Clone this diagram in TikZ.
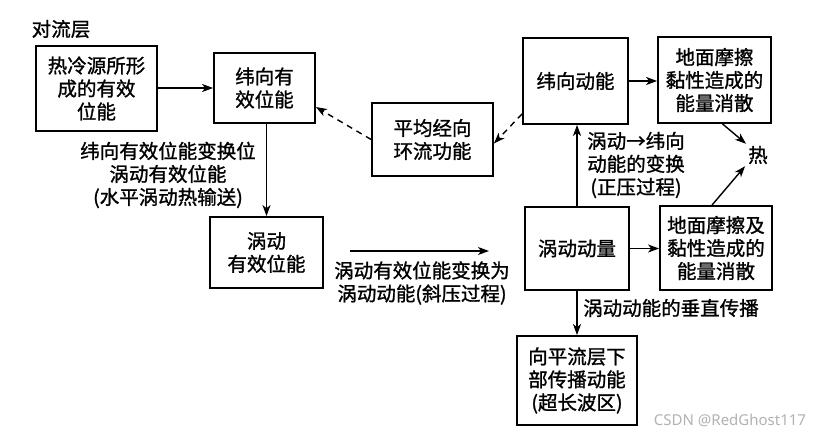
\documentclass[tikz,border=0pt]{standalone}
\usepackage{fontspec}
\setmainfont{Noto Sans CJK SC}[FakeBold=1.2]
\newfontfamily\wmfont{Noto Sans}
\usetikzlibrary{arrows.meta,calc}
\begin{document}
\begin{tikzpicture}[x=1pt,y=-1pt,
  every node/.style={font=\fontsize{19.5}{23}\selectfont, inner sep=0pt},
  box/.style={draw, line width=1.8pt, align=center},
  lbl/.style={align=center},
  arr/.style={line width=1.4pt, -{Stealth[length=11pt,width=8pt,inset=3pt]}},
  darr/.style={arr, dash pattern=on 6pt off 5pt}]
\useasboundingbox (0,0) rectangle (828,436);
\fill[white] (0,0) rectangle (828,436);

\node (trop) at (61,29) {对流层};

\node[box, minimum width=121pt, minimum height=85pt] (b1) at (96.5,88.5) {热冷源所形\\成的有效\\位能};
\node[box, minimum width=101pt, minimum height=70pt] (b2) at (264.5,88) {纬向有\\效位能};
\node[box, minimum width=113pt, minimum height=71pt] (b3) at (266.5,252.5) {涡动\\有效位能};
\node[box, minimum width=121pt, minimum height=73pt] (b4) at (432.5,139.5) {平均经向\\环流功能};
\node[box, minimum width=105pt, minimum height=86pt] (b5) at (575.5,81) {纬向动能};
\node[box, minimum width=113pt, minimum height=86pt] (b6) at (714.5,80) {地面摩擦\\黏性造成的\\能量消散};
\node[box, minimum width=104pt, minimum height=83pt] (b7) at (577,248.5) {涡动动量};
\node[box, minimum width=112pt, minimum height=84pt] (b8) at (716,248) {地面摩擦及\\黏性造成的\\能量消散};
\node[box, minimum width=120pt, minimum height=89pt] (b9) at (577,380.5) {向平流层下\\部传播动能\\(超长波区)};

\node (heat) at (758,155) {热};

\node[lbl] (l1) at (168,175) {纬向有效位能变换位\\涡动有效位能\\(水平涡动热输送)};
\node[lbl] (l2) at (422,283) {涡动有效位能变换为\\涡动动能(斜压过程)};
\node[lbl] (l3) at (636,165) {涡动→纬向\\动能的变换\\(正压过程)};
\node[lbl, anchor=west] (l4) at (583,308) {涡动动能的垂直传播};

\node[text=black!30, font=\wmfont\fontsize{15}{18}\selectfont] (wm) at (730,420) {CSDN @RedGhost117};

\coordinate (h1) at (350,251);
\coordinate (h2) at (489,251);

\draw[arr] (b1.east |- b2.west) -- (b2.west);
\draw[arr] (b3.north |- b2.south) -- (b3.north);
\draw[arr] (h1) -- (h2);
\draw[darr] ([yshift=11pt]b5.south west) -- ([yshift=-4pt]b4.east);
\draw[darr] (b4.west) -- ([yshift=-19pt]b2.east);
\draw[arr] (b7.north) -- (b7.north |- b5.south);
\draw[arr] (b5.east) -- (b5.east -| b6.west);
\draw[arr] ([xshift=8pt]b6.south) -- ([shift={(-2pt,2pt)}]heat.north west);
\draw[arr] ([xshift=-4pt]b8.north) -- ([shift={(-3pt,-2pt)}]heat.south west);
\draw[arr] (b7.east) -- (b7.east -| b8.west);
\draw[arr] (b7.south) -- (b7.south |- b9.north);
\end{tikzpicture}
\end{document}
